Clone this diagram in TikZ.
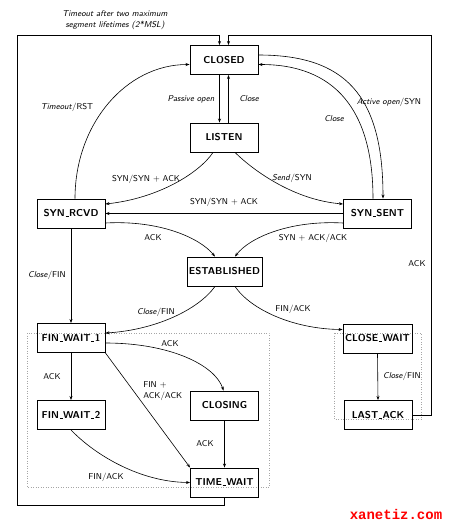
\documentclass[tikz,border=0pt]{standalone}
\usepackage{fontspec}
\newfontfamily\wmfont{Liberation Mono}
\usetikzlibrary{arrows.meta}
\newcommand\usc{\leavevmode\kern.06em\vbox{\hrule width.3em height 0.6pt}\kern.06em}
\begin{document}
\begin{tikzpicture}[x=1pt,y=-1pt,
  state/.style={draw,line width=0.9pt,minimum width=68pt,minimum height=29pt,inner sep=0pt,font=\sffamily\bfseries},
  edge/.style={line width=0.6pt,-{Stealth[length=4pt,width=3pt]}},
  lbl/.style={font=\sffamily\fontsize{8.5}{10.5}\selectfont,inner sep=0pt},
  grp/.style={draw=gray!70,dotted,line width=0.5pt}]
\useasboundingbox (0,0) rectangle (450,523);
% groups
\draw[grp] (27,333) rectangle (269,487);
\draw[grp] (334,333) rectangle (421,419);
% states
\node[state] (closed) at (224,60) {CLOSED};
\node[state] (listen) at (224,137.5) {LISTEN};
\node[state] (synrcvd) at (71,213.5) {SYN\usc RCVD};
\node[state] (synsent) at (377.5,213.5) {SYN\usc SENT};
\node[state,minimum width=75pt] (est) at (224.5,271.5) {ESTABLISHED};
\node[state] (fw1) at (71,338) {FIN\usc WAIT\usc 1};
\node[state,minimum width=69pt] (closewait) at (377.5,338.5) {CLOSE\usc WAIT};
\node[state] (fw2) at (71,415) {FIN\usc WAIT\usc 2};
\node[state] (closing) at (224.5,405.5) {CLOSING};
\node[state] (lastack) at (378,415) {LAST\usc ACK};
\node[state] (timewait) at (224.5,482.5) {TIME\usc WAIT};
% loop corners
\coordinate (bl) at (17,505);
\coordinate (tl) at (17,35);
\coordinate (tr) at (431,35);
% edges
\draw[edge] ([xshift=-4.5pt]closed.south) -- ([xshift=-4.5pt]listen.north)
  node[lbl,at={(191,99)}] {\itshape Passive open};
\draw[edge] ([xshift=4.5pt]listen.north) -- ([xshift=4.5pt]closed.south)
  node[lbl,at={(249,99)}] {\itshape Close};
\draw[edge] ([xshift=-11pt]listen.south) .. controls (200,172) and (160,198) .. ([yshift=9.5pt]synrcvd.east)
  node[lbl,at={(146,179)}] {SYN/SYN + ACK};
\draw[edge] ([xshift=11pt]listen.south) .. controls (255,172) and (295,200) .. ([yshift=9.5pt]synsent.west)
  node[lbl,at={(292,178)}] {\textit{Send}/SYN};
\draw[edge] (synsent.west) -- (synrcvd.east)
  node[lbl,at={(224,202)}] {SYN/SYN + ACK};
\draw[edge] ([xshift=4pt]synrcvd.north) .. controls (75,124) and (126,64.5) .. ([yshift=-4.5pt]closed.west)
  node[lbl,at={(67,107)}] {\textit{Timeout}/RST};
\draw[edge] ([yshift=5pt]closed.east) .. controls (345,55) and (383,95) .. ([xshift=5.5pt]synsent.north)
  node[lbl,at={(389,102)}] {\textit{Active open}/SYN};
\draw[edge] ([xshift=-4.5pt]synsent.north) .. controls (373,110) and (335,64.5) .. ([yshift=-4.5pt]closed.east)
  node[lbl,at={(334,119)}] {\itshape Close};
\draw[edge] ([yshift=-9.5pt]synrcvd.east) .. controls (160,220) and (200,238) .. ([xshift=-9.5pt]est.north)
  node[lbl,at={(153,238)}] {ACK};
\draw[edge] ([yshift=-9.5pt]synsent.west) .. controls (289,220) and (249,238) .. ([xshift=10.5pt]est.north)
  node[lbl,at={(313,238)}] {SYN + ACK/ACK};
\draw[edge] (synrcvd.south) -- (fw1.north)
  node[lbl,at={(47,275)}] {\textit{Close}/FIN};
\draw[edge] ([xshift=-9.5pt]est.south) .. controls (198,310) and (155,330) .. ([yshift=5pt]fw1.east)
  node[lbl,at={(156,312)}] {\textit{Close}/FIN};
\draw[edge] ([xshift=10.5pt]est.south) .. controls (251,310) and (294,329) .. ([yshift=9pt]closewait.west)
  node[lbl,at={(293,309)}] {FIN/ACK};
\draw[edge] (fw1.south) -- (fw2.north)
  node[lbl,at={(52,377)}] {ACK};
\draw[edge] ([yshift=-5pt]fw1.east) .. controls (170,343) and (215,365) .. ([xshift=-1pt]closing.north)
  node[lbl,at={(170,344)}] {ACK};
\draw[edge] (fw1.south east) -- (timewait.north west)
  node[lbl,align=left,anchor=west,at={(143,391)}] {FIN +\\ACK/ACK};
\draw[edge] (closing.south) -- (timewait.north)
  node[lbl,at={(205,444)}] {ACK};
\draw[edge] (fw2.south) .. controls (95,455) and (140,482) .. (timewait.west)
  node[lbl,at={(106,477)}] {FIN/ACK};
\draw[edge] (closewait.south) -- (lastack.north)
  node[lbl,at={(402,376)}] {\textit{Close}/FIN};
\draw[edge] (timewait.south) |- (bl) -- (tl) -| ([xshift=-4.5pt]closed.north)
  node[lbl,align=center,at={(115,20)}] {\itshape Timeout after two maximum\\\itshape segment lifetimes (2*MSL)};
\draw[edge] (lastack.east) -| (tr) -| ([xshift=4.5pt]closed.north)
  node[lbl,at={(417,264)}] {ACK};
% watermark
\node[font=\wmfont\bfseries\fontsize{14}{16}\selectfont,text=red,inner sep=0pt] (wm) at (396,514) {xanetiz.com};
\end{tikzpicture}
\end{document}
